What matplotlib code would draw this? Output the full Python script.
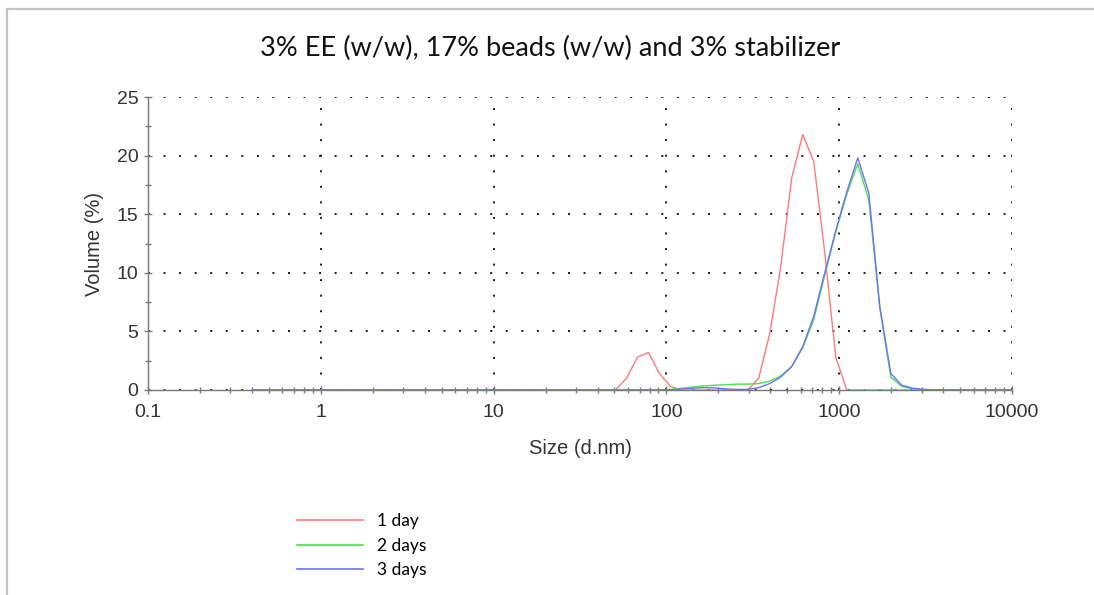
import matplotlib
matplotlib.use("Agg")
import matplotlib.pyplot as plt
from matplotlib.ticker import FixedLocator, FixedFormatter, LogLocator, NullFormatter, MultipleLocator
from matplotlib.lines import Line2D

# Zetasizer size bins (d.nm)
sizes = [0.4, 0.4632, 0.5365, 0.6213, 0.7195, 0.8332, 0.9649, 1.117, 1.294, 1.499,
         1.736, 2.01, 2.328, 2.696, 3.122, 3.615, 4.187, 4.849, 5.615, 6.503,
         7.531, 8.721, 10.1, 11.7, 13.54, 15.69, 18.17, 21.04, 24.36, 28.21,
         32.67, 37.84, 43.82, 50.75, 58.77, 68.06, 78.82, 91.28, 105.7, 122.4,
         141.8, 164.2, 190.1, 220.2, 255.0, 295.3, 342.0, 396.1, 458.7, 531.2,
         615.1, 712.4, 825.0, 955.4, 1106, 1281, 1484, 1718, 1990, 2305,
         2669, 3091, 3580, 4145, 4801, 5560, 6439, 7456, 8635, 10000]

zeros33 = [0.0] * 33  # bins 0.4 .. 43.82

day1 = zeros33 + [0.0, 1.0, 2.8, 3.2, 1.4, 0.3, 0.0,
                  0.0, 0.0, 0.0, 0.0, 0.0, 0.0, 1.0, 4.8, 10.5, 18.1,
                  21.8, 19.5, 11.7, 2.8, 0.0, 0.0, 0.0, 0.0, 0.0, 0.0,
                  0.0, 0.0, 0.0, 0.0, 0.0, 0.0, 0.0, 0.0, 0.0, 0.0]

day2 = zeros33 + [0.0, 0.0, 0.0, 0.0, 0.0, 0.05, 0.15,
                  0.25, 0.35, 0.4, 0.45, 0.5, 0.5, 0.55, 0.75, 1.2, 2.0,
                  3.6, 6.0, 9.8, 13.5, 16.7, 19.3, 16.2, 7.0, 1.1, 0.3,
                  0.1, 0.02, 0.0, 0.0, 0.0, 0.0, 0.0, 0.0, 0.0, 0.0]

day3 = zeros33 + [0.0, 0.0, 0.0, 0.0, 0.0, 0.02, 0.08,
                  0.15, 0.2, 0.18, 0.1, 0.05, 0.05, 0.2, 0.55, 1.1, 2.0,
                  3.7, 6.3, 10.0, 13.6, 16.9, 19.8, 16.8, 7.1, 1.4, 0.4,
                  0.15, 0.05, 0.01, 0.0, 0.0, 0.0, 0.0, 0.0, 0.0, 0.0]

series_labels = ["1 day", "2 days", "3 days"]
series_colors = ["#ff7a7a", "#4fdf4f", "#7070ff"]
x_ticks = [0.1, 1, 10, 100, 1000, 10000]
x_tick_labels = ["0.1", "1", "10", "100", "1000", "10000"]
y_ticks = [0, 5, 10, 15, 20, 25]

title = "3% EE (w/w), 17% beads (w/w) and 3% stabilizer"

fig = plt.figure(figsize=(10.94, 5.95), dpi=100)
fig.patch.set_facecolor("white")

# page border (top and left)
fig.add_artist(Line2D([7/1094, 1.0], [1 - 9/595, 1 - 9/595], color="#c4c4c4", lw=1.6))
fig.add_artist(Line2D([7/1094, 7/1094], [0, 1 - 9/595], color="#c4c4c4", lw=1.6))

ax = fig.add_axes([148/1094, 1 - 390/595, 864/1094, 293/595])
for vals, lab, col in zip([day1, day2, day3], series_labels, series_colors):
    ax.plot(sizes, vals, color=col, lw=1.0, label=lab)

ax.set_xscale("log")
ax.set_xlim(0.1, 10000)
ax.set_ylim(0, 25)
ax.xaxis.set_major_locator(FixedLocator(x_ticks))
ax.xaxis.set_major_formatter(FixedFormatter(x_tick_labels))
ax.xaxis.set_minor_locator(LogLocator(base=10, subs=range(2, 10), numticks=20))
ax.xaxis.set_minor_formatter(NullFormatter())
ax.yaxis.set_major_locator(FixedLocator(y_ticks))
ax.yaxis.set_minor_locator(MultipleLocator(2.5))

ax.grid(True, which="major", color="#1a1a1a", linestyle=(0, (1, 7)), lw=1.4)
for s in ["top", "right"]:
    ax.spines[s].set_visible(False)
for s in ["left", "bottom"]:
    ax.spines[s].set_color("#7a7a7a")
    ax.spines[s].set_linewidth(1.0)

ax.tick_params(which="both", direction="inout", color="#7a7a7a", width=1.0)
ax.tick_params(which="major", length=6, labelsize=14, labelcolor="#333333")
ax.tick_params(axis="x", which="major", pad=7)
ax.tick_params(axis="y", which="major", pad=4)
ax.tick_params(which="minor", length=5)
for lbl in ax.get_xticklabels() + ax.get_yticklabels():
    lbl.set_fontfamily("Liberation Sans")

ax.set_xlabel("Size (d.nm)", fontsize=14.5, family="Liberation Sans", color="#333333", labelpad=13)
ax.set_ylabel("Volume (%)", fontsize=14.5, family="Liberation Sans", color="#333333", labelpad=9)

fig.text(550/1094, 1 - 48/595, title, ha="center", va="center", fontsize=19.5,
         family="Lato", color="#111111")

handles = [Line2D([0], [0], color=c, lw=1.2) for c in series_colors]
fig.legend(handles, series_labels, loc="upper left", bbox_to_anchor=(297/1094, 1 - 513/595),
           frameon=False, prop={"family": "Lato", "size": 12.5}, handlelength=3.8,
           handletextpad=0.8, labelspacing=0.5, borderaxespad=0, borderpad=0)

fig.savefig("out.png", dpi=100, facecolor="white")
